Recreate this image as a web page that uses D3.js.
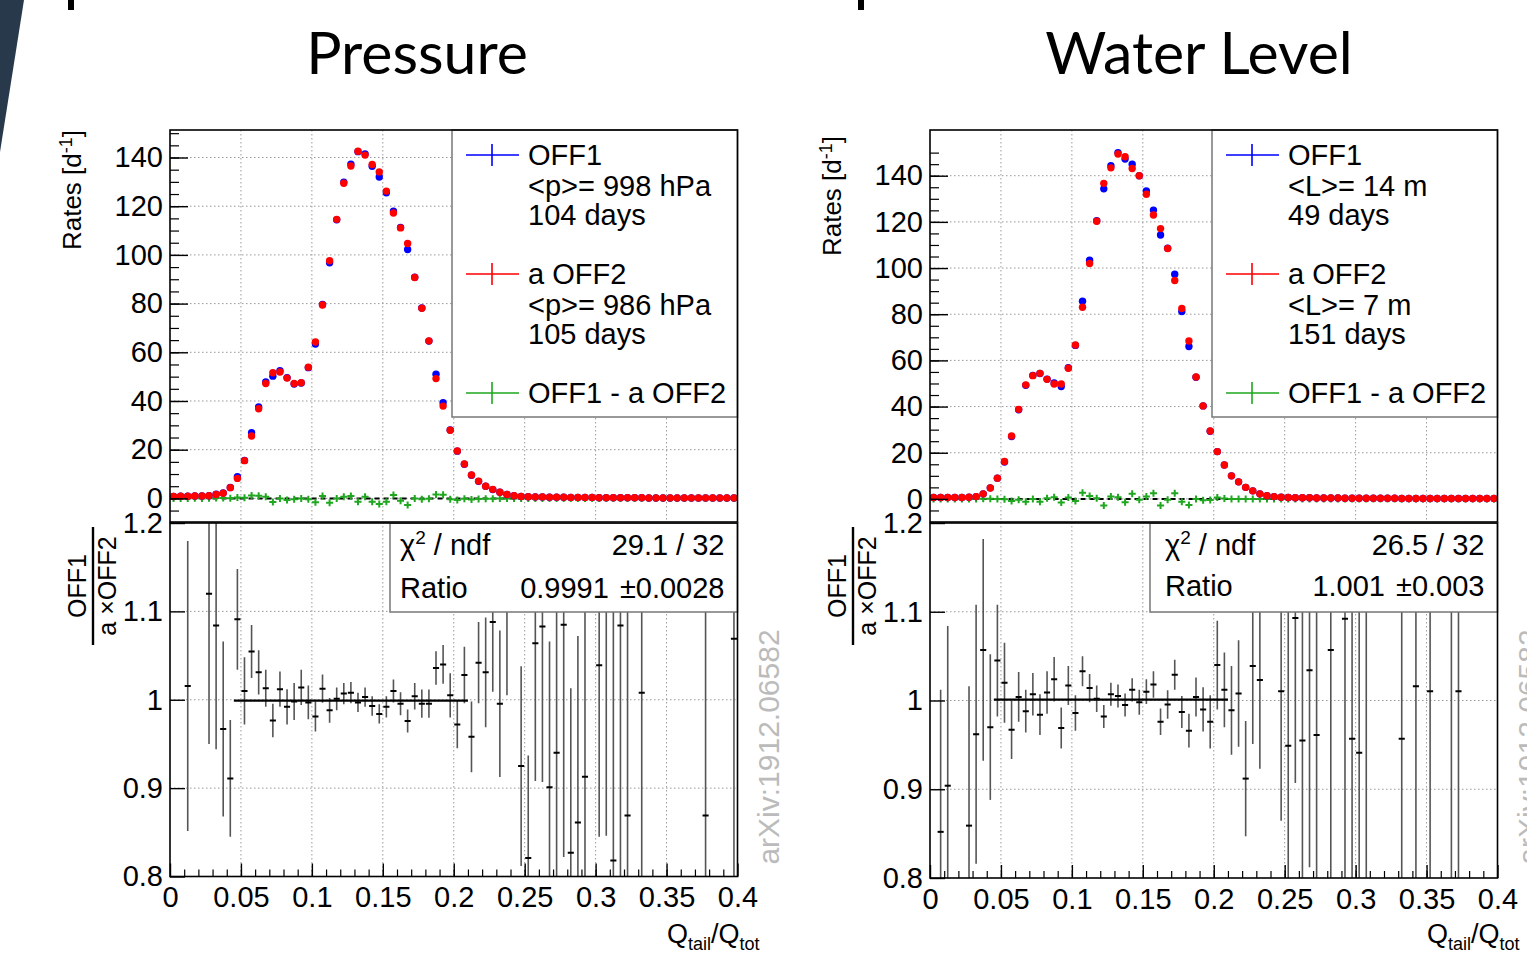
<!DOCTYPE html>
<html>
<head>
<script src="https://d3js.org/d3.v7.min.js"></script>
<style>
    body { margin: 0; background: #fff; }
    text { font-family: "Liberation Sans", Arial, sans-serif; }
    .title { font-family: Lato, "Open Sans", sans-serif; font-weight: 400; }
</style>
</head>
<body>
<div id="svg"></div>
<script>
// ---- data (80 bins of 0.005 in Qtail/Qtot) ----
var binWidth = 0.005;

var pressRed = [0.8, 0.9, 0.9, 1.0, 1.0, 1.1, 1.6, 2.1, 4.4, 8.2,
    15.5, 25.6, 36.8, 47.2, 51.6, 51.9, 49.4, 47.2, 47.5, 53.9,
    64.2, 79.4, 97.6, 114.6, 129.4, 136.5, 142.6, 141.0, 137.1, 134.1,
    126.2, 117.2, 111.1, 104.7, 90.7, 78.1, 64.7, 49.2, 37.9, 28.0,
    19.5, 14.1, 9.6, 7.1, 5.0, 3.7, 2.5, 1.6, 1.1, 0.8,
    0.7, 0.6, 0.6, 0.5, 0.5, 0.5, 0.4, 0.4, 0.4, 0.4,
    0.3, 0.3, 0.3, 0.3, 0.3, 0.3, 0.3, 0.2, 0.2, 0.2,
    0.2, 0.2, 0.2, 0.2, 0.2, 0.2, 0.2, 0.2, 0.2, 0.2];
var pressBlue = [0.8, 0.9, 0.9, 1.0, 1.0, 1.1, 1.7, 2.2, 4.5, 8.9,
    15.6, 27.0, 37.6, 47.8, 50.2, 52.4, 49.6, 47.0, 47.4, 53.7,
    63.4, 79.6, 96.8, 114.4, 129.9, 137.3, 142.4, 141.5, 136.4, 132.0,
    125.5, 118.0, 111.3, 102.2, 90.8, 78.2, 64.6, 51.0, 39.3, 28.1,
    19.4, 14.0, 9.5, 7.0, 5.0, 3.6, 2.5, 1.6, 1.1, 0.8,
    0.7, 0.6, 0.6, 0.5, 0.5, 0.5, 0.4, 0.4, 0.4, 0.4,
    0.3, 0.3, 0.3, 0.3, 0.3, 0.3, 0.3, 0.2, 0.2, 0.2,
    0.2, 0.2, 0.2, 0.2, 0.2, 0.2, 0.2, 0.2, 0.2, 0.2];
var pressDiff = [0, 0, 0, 0.1, 0, 0.1, 0.2, 0.2, 0.1, 0.4,
    0.3, 1.2, 1.1, 0.7, -1.5, 0, -0.7, -0.4, 0, -0.4,
    -1.6, 1.0, -1.8, 0, 0.7, 1.0, -1.4, 0.7, -1.4, -2.3,
    -1.4, 1.4, -1.0, -2.7, 0, -0.4, -0.1, 1.6, 1.5, -0.4,
    -0.7, -0.2, -0.5, -0.3, -0.2, -0.1, 0, 0, 0, 0,
    0, 0, 0, 0, 0, 0, 0, 0, 0, 0,
    0, 0, 0, 0, 0, 0, 0, 0, 0, 0,
    0, 0, 0, 0, 0, 0, 0, 0, 0, 0];

var levelRed = [0.6, 0.6, 0.6, 0.6, 0.6, 0.7, 1.0, 2.2, 4.7, 9.0,
    16.2, 27.3, 38.8, 49.4, 53.4, 54.4, 51.8, 49.8, 49.8, 56.6,
    66.7, 83.0, 102.0, 120.3, 136.7, 143.4, 149.4, 148.2, 143.1, 140.0,
    132.0, 123.0, 117.1, 108.5, 94.6, 82.5, 68.4, 52.8, 40.3, 29.4,
    20.5, 14.7, 10.0, 7.4, 5.0, 3.5, 2.2, 1.4, 1.0, 0.7,
    0.6, 0.5, 0.5, 0.5, 0.4, 0.4, 0.4, 0.4, 0.3, 0.3,
    0.3, 0.3, 0.3, 0.3, 0.3, 0.3, 0.2, 0.2, 0.2, 0.2,
    0.2, 0.2, 0.2, 0.2, 0.2, 0.2, 0.2, 0.2, 0.2, 0.2];
var levelBlue = [0.6, 0.6, 0.6, 0.6, 0.6, 0.7, 1.0, 2.2, 4.8, 9.0,
    16.0, 27.0, 38.6, 49.2, 53.5, 54.3, 51.9, 50.2, 48.7, 56.8,
    66.5, 85.6, 103.4, 120.5, 134.3, 144.3, 150.0, 147.2, 145.0, 140.0,
    133.4, 125.1, 114.3, 108.6, 97.3, 81.2, 66.0, 52.7, 40.3, 29.3,
    20.5, 14.7, 10.0, 7.4, 5.0, 3.5, 2.2, 1.4, 1.0, 0.7,
    0.6, 0.5, 0.5, 0.5, 0.4, 0.4, 0.4, 0.4, 0.3, 0.3,
    0.3, 0.3, 0.3, 0.3, 0.3, 0.3, 0.2, 0.2, 0.2, 0.2,
    0.2, 0.2, 0.2, 0.2, 0.2, 0.2, 0.2, 0.2, 0.2, 0.2];
var levelDiff = [0, 0, 0, 0, 0, 0, 0, 0.1, 0.1, 0,
    -0.1, -0.9, -0.4, -1.2, 0, -1.2, 0.3, 0.7, -1.6, 0.6,
    -0.9, 2.7, 1.3, 0.3, -2.9, 1.0, 0.7, -1.4, 2.2, -0.4,
    1.0, 2.5, -2.9, -0.4, 2.5, -1.2, -2.6, 0, -0.6, -0.5,
    0.6, 0.2, 0, 0, 0, 0, 0, 0, 0, 0,
    0, 0, 0, 0, 0, 0, 0, 0, 0, 0,
    0, 0, 0, 0, 0, 0, 0, 0, 0, 0,
    0, 0, 0, 0, 0, 0, 0, 0, 0, 0];

// ratio OFF1 / (a x OFF2): bin index, value, error
var pressRatioBin = [2, 5, 6, 7, 8, 9, 10, 11, 12, 13, 14, 15, 16, 17, 18, 19, 20, 21, 22, 23, 24, 25, 26, 27, 28, 29,
    30, 31, 32, 33, 34, 35, 36, 37, 38, 39, 40, 41, 42, 43, 44, 45, 46, 47, 49, 50, 51, 52, 53, 54, 55, 56, 57, 58,
    60, 61, 62, 63, 64, 66, 75, 79];
var pressRatioVal = [1.0155, 1.120, 1.084, 0.967, 0.911, 1.091, 1.010, 1.0545, 1.031, 1.013, 0.9765, 1.012, 0.992, 0.998,
    1.014, 0.997, 0.981, 1.0125, 0.988, 1.001, 1.007, 1.008, 0.997, 1.003, 0.993, 0.984,
    0.992, 1.010, 0.9955, 0.976, 1.004, 0.9955, 0.9955, 1.036, 1.040, 1.005, 0.972, 1.028, 0.958, 1.042, 1.031, 1.088,
    0.9955, 1.14, 0.925, 0.821, 1.064, 1.083, 0.901, 0.94, 1.085, 0.827, 0.861, 0.913,
    1.039, 1.15, 0.818, 1.084, 0.869, 1.008, 0.869, 1.069];
var pressRatioErr = [0.164, 0.17, 0.14, 0.099, 0.066, 0.057, 0.038, 0.030, 0.025, 0.021, 0.019, 0.020, 0.020, 0.021,
    0.020, 0.019, 0.017, 0.016, 0.014, 0.013, 0.012, 0.012, 0.011, 0.011, 0.011, 0.011,
    0.012, 0.013, 0.013, 0.013, 0.015, 0.016, 0.016, 0.019, 0.022, 0.025, 0.027, 0.032, 0.040, 0.046, 0.062, 0.079,
    0.083, 0.135, 0.113, 0.116, 0.156, 0.176, 0.165, 0.2, 0.263, 0.186, 0.211, 0.3,
    0.194, 0.304, 0.35, 0.3, 0.3, 0.3, 0.4, 0.4];

var levelRatioBin = [1, 2, 5, 6, 7, 8, 9, 10, 11, 12, 13, 14, 15, 16, 17, 18, 19, 20, 21, 22, 23, 24, 25, 26, 27, 28, 29,
    30, 31, 32, 33, 34, 35, 36, 37, 38, 39, 40, 41, 42, 43, 44, 45, 46, 49, 50, 51, 52, 53, 54, 56, 58, 59, 60, 61,
    66, 68, 70, 73, 74];
var levelRatioVal = [0.852, 0.904, 0.859, 0.962, 1.057, 0.970, 1.045, 1.020, 0.967, 1.004, 0.988, 1.007, 0.984, 1.009,
    1.024, 0.969, 1.017, 0.986, 1.033, 1.014, 1.002, 0.982, 1.007, 1.005, 0.995, 1.012, 0.998,
    1.010, 1.018, 0.976, 0.9955, 1.029, 0.987, 0.966, 1.004, 0.990, 0.976, 1.040, 1.012, 0.989, 1.008, 0.912, 1.039,
    1.023, 1.0105, 0.949, 1.093, 0.955, 1.034, 0.961, 1.057, 1.092, 0.957, 0.941, 1.13,
    0.957, 1.016, 1.0105, 1.14, 1.0105];
var levelRatioErr = [0.16, 0.18, 0.157, 0.146, 0.125, 0.082, 0.063, 0.045, 0.033, 0.028, 0.024, 0.024, 0.023, 0.024,
    0.025, 0.023, 0.022, 0.020, 0.017, 0.016, 0.015, 0.013, 0.013, 0.013, 0.013, 0.013, 0.014,
    0.014, 0.015, 0.015, 0.016, 0.017, 0.018, 0.019, 0.022, 0.025, 0.030, 0.05, 0.042, 0.05, 0.06, 0.065, 0.088,
    0.10, 0.146, 0.25, 0.186, 0.25, 0.222, 0.25, 0.3, 0.3, 0.3, 0.3, 0.4,
    0.3, 0.3, 0.3, 0.4, 0.3];

// axes and texts
var xTicks = [0, 0.05, 0.1, 0.15, 0.2, 0.25, 0.3, 0.35, 0.4];
var xTickLabels = ["0", "0.05", "0.1", "0.15", "0.2", "0.25", "0.3", "0.35", "0.4"];
var rateTicks = [0, 20, 40, 60, 80, 100, 120, 140];
var ratioTicks = [0.8, 0.9, 1.0, 1.1, 1.2];
var ratioTickLabels = ["0.8", "0.9", "1", "1.1", "1.2"];
var panelTitles = ["Pressure", "Water Level"];
var pressLegend = ["OFF1", "<p>= 998 hPa", "104 days", "a OFF2", "<p>= 986 hPa", "105 days", "OFF1 - a OFF2"];
var levelLegend = ["OFF1", "<L>= 14 m", "49 days", "a OFF2", "<L>= 7 m", "151 days", "OFF1 - a OFF2"];
var pressFit = { chi2: "29.1 / 32", ratio: "0.9991 \u00b10.0028", value: 0.9991, from: 0.045, to: 0.21 };
var levelFit = { chi2: "26.5 / 32", ratio: "1.001 \u00b10.003", value: 1.001, from: 0.045, to: 0.21 };
var watermark = "arXiv:1912.06582";

var svg = d3.select("#svg").append("svg")
    .attr("width", 1527)
    .attr("height", 954);

// bits of the slide behind the figure
svg.append("polygon").attr("points", "0,0 24,0 0,152").style("fill", "#27394b");
svg.append("rect").attr("x", 68).attr("y", 0).attr("width", 6).attr("height", 10).style("fill", "#000");
svg.append("rect").attr("x", 858).attr("y", 0).attr("width", 6).attr("height", 10).style("fill", "#000");

var panels = [
    { title: panelTitles[0], titleX: 417, left: 170, right: 737.5, rateDomain: [-9.7, 151.3], ratioBottom: 876.5,
      red: pressRed, blue: pressBlue, diff: pressDiff, legend: pressLegend, fit: pressFit,
      rBin: pressRatioBin, rVal: pressRatioVal, rErr: pressRatioErr, statsX: 390, statsPad: 10 },
    { title: panelTitles[1], titleX: 1199, left: 930, right: 1497.5, rateDomain: [-10, 159.8], ratioBottom: 878,
      red: levelRed, blue: levelBlue, diff: levelDiff, legend: levelLegend, fit: levelFit,
      rBin: levelRatioBin, rVal: levelRatioVal, rErr: levelRatioErr, statsX: 1150, statsPad: 15 }
];

var labelFont = "29px";

panels.forEach(function (p, k) {
    var top = 130, split = 522;
    var x = d3.scaleLinear().domain([0, 0.4]).range([p.left, p.right]);
    var y = d3.scaleLinear().domain(p.rateDomain).range([split, top]);
    var yr = d3.scaleLinear().domain([0.8, 1.2]).range([p.ratioBottom, split + 1]);
    var centre = function (i) { return x((i + 0.5) * binWidth); };
    var g = svg.append("g");

    // title
    g.append("text").attr("class", "title")
        .attr("x", p.titleX).attr("y", 74)
        .attr("text-anchor", "middle").style("font-size", "59px")
        .text(p.title);

    // ---------- grids ----------
    var grid = g.append("g").style("stroke", "#999").style("stroke-width", 1).style("stroke-dasharray", "1.5,2.5");
    xTicks.slice(1, -1).forEach(function (t) {
        grid.append("line").attr("x1", x(t)).attr("x2", x(t)).attr("y1", top).attr("y2", split);
        grid.append("line").attr("x1", x(t)).attr("x2", x(t)).attr("y1", split).attr("y2", p.ratioBottom);
    });
    rateTicks.forEach(function (t) {
        grid.append("line").attr("x1", p.left).attr("x2", p.right).attr("y1", y(t)).attr("y2", y(t));
    });
    ratioTicks.slice(1, -1).forEach(function (t) {
        grid.append("line").attr("x1", p.left).attr("x2", p.right).attr("y1", yr(t)).attr("y2", yr(t));
    });

    // ---------- upper pad ----------
    g.append("line").attr("x1", x(0.03)).attr("x2", x(0.25)).attr("y1", y(0)).attr("y2", y(0))
        .style("stroke", "#000").style("stroke-width", 2).style("stroke-dasharray", "5,4");

    // OFF1 - a OFF2
    g.selectAll("diffMark").data(p.diff).enter().append("path")
        .attr("d", function (d, i) {
            var cx = centre(i), cy = y(d);
            return "M" + x(i * binWidth) + "," + cy + "H" + x((i + 1) * binWidth) +
                "M" + cx + "," + (cy - 3.5) + "V" + (cy + 3.5);
        })
        .style("fill", "none").style("stroke", "#1fa81f").style("stroke-width", 2);

    g.selectAll("blueMark").data(p.blue).enter().append("circle")
        .attr("cx", function (d, i) { return centre(i); })
        .attr("cy", function (d) { return y(d); })
        .attr("r", 3.7).style("fill", "#0000ff");
    g.selectAll("redMark").data(p.red).enter().append("circle")
        .attr("cx", function (d, i) { return centre(i); })
        .attr("cy", function (d) { return y(d); })
        .attr("r", 3.7).style("fill", "#ff0000");

    // legend
    var lx = p.left + 282, lw = p.right - lx;
    g.append("rect").attr("x", lx).attr("y", top).attr("width", lw).attr("height", 287)
        .style("fill", "#fff").style("stroke", "#777").style("stroke-width", 1.5);
    var rowY = [155, 186, 215, 274, 305, 334, 393];
    var sample = [[0, "#0000ff"], [3, "#ff0000"], [6, "#1fa81f"]];
    sample.forEach(function (s) {
        var yy = rowY[s[0]];
        g.append("path").attr("d", "M" + (lx + 14) + "," + yy + "H" + (lx + 67) +
            "M" + (lx + 40) + "," + (yy - 11) + "V" + (yy + 11))
            .style("stroke", s[1]).style("stroke-width", 1.6).style("fill", "none");
    });
    p.legend.forEach(function (t, i) {
        g.append("text").attr("x", lx + 76).attr("y", rowY[i]).attr("dy", "0.36em")
            .style("font-size", "29px").text(t);
    });

    // frame + axes of upper pad
    g.append("rect").attr("x", p.left).attr("y", top).attr("width", p.right - p.left).attr("height", split - top)
        .style("fill", "none").style("stroke", "#000").style("stroke-width", 1.6);

    var ax = g.append("g").attr("transform", "translate(" + p.left + ",0)")
        .call(d3.axisLeft(y).tickValues(rateTicks).tickSizeInner(-18).tickSizeOuter(0).tickPadding(7));
    ax.select(".domain").remove();
    ax.selectAll("text").style("font-size", labelFont).style("font-family", "Liberation Sans, Arial, sans-serif");
    ax.selectAll("line").style("stroke-width", 1.4);
    var axm = g.append("g").attr("transform", "translate(" + p.left + ",0)")
        .call(d3.axisLeft(y).tickValues(d3.range(-5, 155, 5)).tickSize(-9).tickFormat(""));
    axm.select(".domain").remove();
    axm.selectAll("line").style("stroke-width", 1.2);

    // y title upper
    var ty = g.append("text").attr("transform", "translate(" + (p.left - 89) + "," + (k ? 136 : 130) + ") rotate(-90)")
        .attr("text-anchor", "end").style("font-size", "26px");
    ty.append("tspan").text("Rates [d");
    ty.append("tspan").attr("dy", -9).style("font-size", "18px").text("-1");
    ty.append("tspan").attr("dy", 9).text("]");

    // ---------- lower pad ----------
    var clipId = "clip" + k;
    svg.append("clipPath").attr("id", clipId).append("rect")
        .attr("x", p.left).attr("y", split).attr("width", p.right - p.left).attr("height", p.ratioBottom - split);
    var rg = g.append("g").attr("clip-path", "url(#" + clipId + ")");
    rg.selectAll("errBar").data(p.rBin).enter().append("line")
        .attr("x1", function (b) { return centre(b); }).attr("x2", function (b) { return centre(b); })
        .attr("y1", function (b, i) { return yr(p.rVal[i] + p.rErr[i]); })
        .attr("y2", function (b, i) { return yr(p.rVal[i] - p.rErr[i]); })
        .style("stroke", "#555").style("stroke-width", 1.6);
    rg.selectAll("ratioMark").data(p.rBin).enter().append("line")
        .attr("x1", function (b) { return x(b * binWidth) + 0.5; })
        .attr("x2", function (b) { return x((b + 1) * binWidth) - 0.5; })
        .attr("y1", function (b, i) { return yr(p.rVal[i]); })
        .attr("y2", function (b, i) { return yr(p.rVal[i]); })
        .style("stroke", "#000").style("stroke-width", 2);

    g.append("line").attr("x1", x(p.fit.from)).attr("x2", x(p.fit.to))
        .attr("y1", yr(p.fit.value)).attr("y2", yr(p.fit.value))
        .style("stroke", "#000").style("stroke-width", 2.2);

    // stats box
    var rowA = 545, rowB = k ? 586 : 588;
    g.append("rect").attr("x", p.statsX).attr("y", split + 1).attr("width", p.right - p.statsX).attr("height", 89)
        .style("fill", "#fff").style("stroke", "#777").style("stroke-width", 1.5);
    var chi = g.append("text").attr("x", p.statsX + p.statsPad).attr("y", rowA).attr("dy", "0.36em").style("font-size", labelFont);
    chi.append("tspan").text("\u03c7");
    chi.append("tspan").attr("dy", -11).style("font-size", "19px").text("2");
    chi.append("tspan").attr("dy", 11).text(" / ndf");
    g.append("text").attr("x", p.right - 13).attr("y", rowA).attr("dy", "0.36em").attr("text-anchor", "end")
        .style("font-size", labelFont).text(p.fit.chi2);
    g.append("text").attr("x", p.statsX + p.statsPad).attr("y", rowB).attr("dy", "0.36em").style("font-size", labelFont).text("Ratio");
    g.append("text").attr("x", p.right - 13).attr("y", rowB).attr("dy", "0.36em").attr("text-anchor", "end")
        .style("font-size", labelFont).style("word-spacing", "3px").text(p.fit.ratio);

    g.append("rect").attr("x", p.left).attr("y", split + 1).attr("width", p.right - p.left).attr("height", p.ratioBottom - split - 1)
        .style("fill", "none").style("stroke", "#000").style("stroke-width", 1.6);

    var ay = g.append("g").attr("transform", "translate(" + p.left + ",0)")
        .call(d3.axisLeft(yr).tickValues(ratioTicks).tickFormat(function (d, i) { return ratioTickLabels[i]; })
            .tickSizeInner(-15).tickSizeOuter(0).tickPadding(7));
    ay.select(".domain").remove();
    ay.selectAll("text").style("font-size", labelFont).style("font-family", "Liberation Sans, Arial, sans-serif");
    ay.selectAll("line").style("stroke-width", 1.4);

    var axb = g.append("g").attr("transform", "translate(0," + p.ratioBottom + ")")
        .call(d3.axisBottom(x).tickValues(xTicks).tickFormat(function (d, i) { return xTickLabels[i]; })
            .tickSizeInner(-13).tickSizeOuter(0).tickPadding(10));
    axb.select(".domain").remove();
    axb.selectAll("text").style("font-size", labelFont).style("font-family", "Liberation Sans, Arial, sans-serif");
    axb.selectAll("line").style("stroke-width", 1.4);
    var axbm = g.append("g").attr("transform", "translate(0," + p.ratioBottom + ")")
        .call(d3.axisBottom(x).tickValues(d3.range(0.01, 0.4, 0.01)).tickSize(-7).tickFormat(""));
    axbm.select(".domain").remove();
    axbm.selectAll("line").style("stroke-width", 1.2);

    // ratio title (fraction)
    var fx = p.left - 82, fy = 586;
    g.append("text").attr("transform", "translate(" + (fx - 2) + "," + fy + ") rotate(-90)")
        .attr("text-anchor", "middle").style("font-size", "25px").text("OFF1");
    g.append("line").attr("x1", fx + 5).attr("x2", fx + 5).attr("y1", 527).attr("y2", 645)
        .style("stroke", "#000").style("stroke-width", 2.4);
    g.append("text").attr("transform", "translate(" + (fx + 28) + "," + fy + ") rotate(-90)")
        .attr("text-anchor", "middle").style("font-size", "25px").text("a \u00d7OFF2");

    // x title
    var xt = g.append("text").attr("x", p.right + 22).attr("y", 943).attr("text-anchor", "end").style("font-size", "27px");
    xt.append("tspan").text("Q");
    xt.append("tspan").attr("dy", 7).style("font-size", "18px").text("tail");
    xt.append("tspan").attr("dy", -7).text("/Q");
    xt.append("tspan").attr("dy", 7).style("font-size", "18px").text("tot");

    // watermark
    g.append("text").attr("transform", "translate(" + (p.right + 41) + ",747) rotate(-90)")
        .attr("text-anchor", "middle").style("font-size", "30px").style("fill", "#bbb").text(watermark);
});
</script>
</body>
</html>
